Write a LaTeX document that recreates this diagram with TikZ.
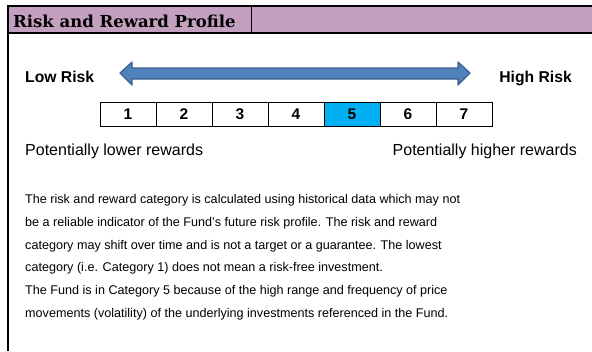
\documentclass[tikz,border=0pt]{standalone}
\usepackage{fontspec}
\setmainfont{Liberation Sans}
\newfontfamily\headfont{DejaVu Serif}
\usepackage{xcolor}

\definecolor{headpurple}{HTML}{C4A0C0}
\definecolor{arrowblue}{HTML}{4F81BD}
\definecolor{arrowedge}{HTML}{3A5F8C}
\definecolor{cellcyan}{HTML}{00B0F0}

\tikzset{
	side/.style={inner sep=0pt,font=\fontsize{15.7}{18}\selectfont\bfseries},
	reward/.style={inner sep=0pt,font=\fontsize{16}{18}\selectfont},
	cell/.style={draw=black,minimum width=56pt,minimum height=24pt,inner sep=0pt,font=\fontsize{15.5}{18}\selectfont\bfseries},
	para/.style={align=left,anchor=north west,inner sep=0pt,font=\fontsize{12.6}{22.7}\selectfont}
}

\begin{document}
\begin{tikzpicture}[x=1pt,y=-1pt]
	\useasboundingbox (0,0) rectangle (592,351);
	% header bar
	\filldraw[fill=headpurple,draw=black,line width=1.5pt] (8,6) rectangle (600,33);
	\draw[line width=1pt] (251,6) -- (251,33);
	\draw[line width=1.5pt] (8,33) -- (8,351);
	\node[anchor=base west,inner sep=0pt,font=\headfont\bfseries\fontsize{16.5}{19}\selectfont] (title) at (13,27) {Risk and Reward Profile};

	% risk arrow
	\filldraw[fill=arrowblue,draw=arrowedge,line width=1.2pt,line join=round]
		(120,73) -- (132,62) -- (132,68) -- (458,68) -- (458,62) -- (470,73)
		-- (458,85) -- (458,79) -- (132,79) -- (132,85) -- cycle;
	\node[side,anchor=base west] (low) at (25,82) {Low Risk};
	\node[side,anchor=base east] (high) at (572,82) {High Risk};

	% scale 1..7
	\foreach \n in {1,...,7}
	{
		\node[cell] (c\n) at (72+56*\n,114) {\n};
	}
	\filldraw[fill=cellcyan,draw=black] (c5.south west) rectangle (c5.north east);
	\node[cell,draw=none] at (c5) {5};

	\node[reward,anchor=base west] (lower) at (25,155) {Potentially lower rewards};
	\node[reward,anchor=base east] (higher) at (577,155) {Potentially higher rewards};

	% explanation
	\node[para] (text) at (25,194.5) {The risk and reward category is calculated using historical data which may not\\
		be a reliable indicator of the Fund's future risk profile. The risk and reward\\
		category may shift over time and is not a target or a guarantee. The lowest\\
		category (i.e. Category 1) does not mean a risk-free investment.\\
		The Fund is in Category 5 because of the high range and frequency of price\\
		movements (volatility) of the underlying investments referenced in the Fund.};
\end{tikzpicture}
\end{document}
